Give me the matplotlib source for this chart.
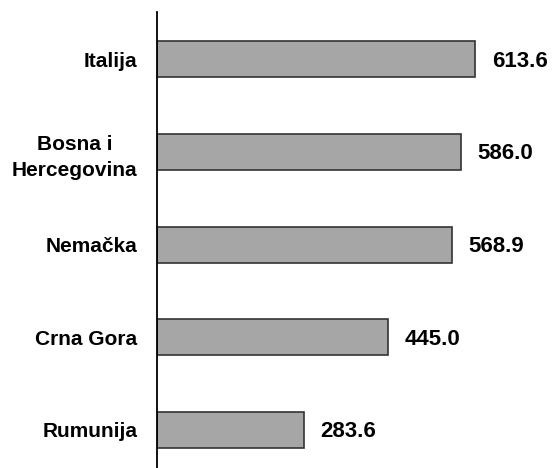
import matplotlib
matplotlib.use("Agg")
import matplotlib.pyplot as plt

categories = ["Italija", "Bosna i\nHercegovina", "Nemačka", "Crna Gora", "Rumunija"]
values = [613.6, 586.0, 568.9, 445.0, 283.6]
value_labels = ["613.6", "586.0", "568.9", "445.0", "283.6"]

plt.rcParams['font.family'] = ['Liberation Sans', 'DejaVu Sans']

fig = plt.figure(figsize=(5.52, 4.68), dpi=100)
ax = fig.add_axes([0.284, 0.0, 0.716, 0.974])

y = list(range(len(categories)))
ax.barh(y, values, height=0.39, color="#a6a6a6", edgecolor="#333333", linewidth=1.2)

ax.set_xlim(0, 762)
ax.set_ylim(4.41, -0.507)

for yi, v, lab in zip(y, values, value_labels):
    ax.text(v + 32, yi + 0.02, lab, va="center", ha="left", fontsize=16,
            fontweight="bold", color="black")

ax.set_yticks(y)
ax.set_yticklabels(categories, fontsize=15, fontweight="bold",
                   multialignment="center", linespacing=1.5)
ax.tick_params(axis="y", length=0, pad=14)
ax.set_xticks([])
for s in ["top", "right", "bottom"]:
    ax.spines[s].set_visible(False)
ax.spines["left"].set_linewidth(1.3)
ax.spines["left"].set_color("black")

fig.savefig("out.png", dpi=100)
